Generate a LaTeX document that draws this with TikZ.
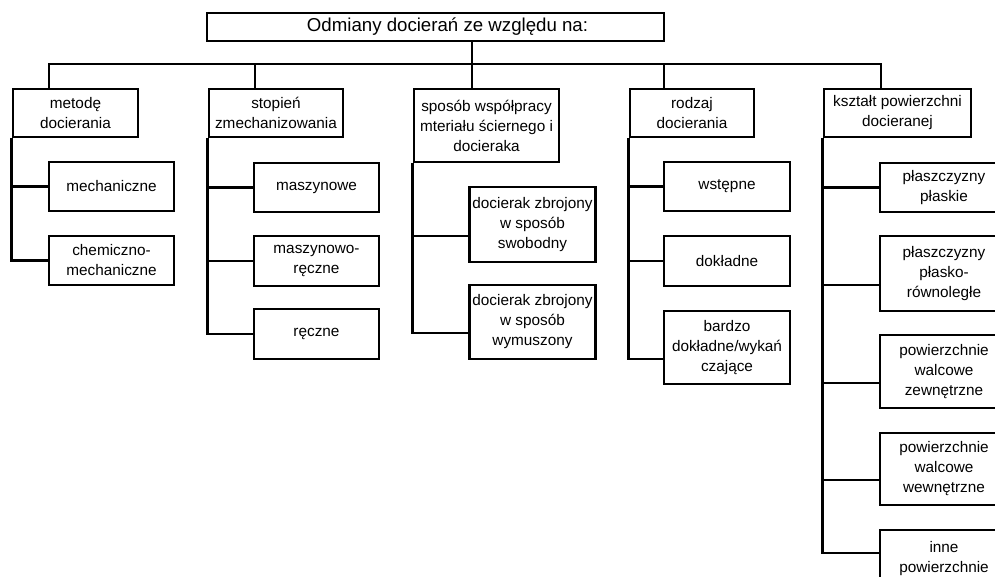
\documentclass[tikz,border=0pt]{standalone}
\usepackage{fontspec}
\setmainfont{Liberation Sans}
\begin{document}
\begin{tikzpicture}[x=0.75pt,y=-0.75pt,line width=2.1pt,
  box/.style={draw,rectangle,align=center,inner sep=2pt,line width=2.1pt,
    font=\fontsize{11.5}{15}\selectfont},
  l1/.style={box,minimum height=36pt},
  kid/.style={box,minimum width=93.75pt}]
\useasboundingbox (0,0) rectangle (995,576);
\clip (0,0) rectangle (995,576);
% title
\node[box,minimum width=342.75pt,minimum height=21pt,font=\fontsize{14}{16}\selectfont] (T) at (435.5,27) {\hspace*{18pt}Odmiany docierań ze względu na:};
% level 1
\node[l1,minimum width=93.75pt] (A) at (75.5,113) {metodę\\docierania};
\node[l1,minimum width=100.5pt] (B) at (276,113) {stopień\\zmechanizowania};
\node[box,minimum width=108.75pt,minimum height=54.75pt] (C) at (486.5,125.5) {sposób współpracy\\mteriału ściernego i\\docieraka};
\node[l1,minimum width=93pt] (D) at (692,113) {rodzaj\\docierania};
\node[l1,minimum width=110.25pt] (E) at (897.5,113) {kształt powierzchni\\docieranej};
% group 1
\node[kid,minimum height=36.75pt] (A1) at (111.5,186.5) {mechaniczne};
\node[kid,minimum height=36.75pt] (A2) at (111.5,260.5) {chemiczno-\\mechaniczne};
% group 2
\node[kid,minimum height=36.75pt] (B1) at (316.5,187.5) {maszynowe};
\node[kid,minimum height=37.5pt] (B2) at (316.5,261) {maszynowo-\\ręczne};
\node[kid,minimum height=37.5pt] (B3) at (316.5,334) {ręczne};
% group 3
\node[kid,minimum height=56.25pt] (C1) at (532.5,224.5) {docierak zbrojony\\w sposób\\swobodny};
\node[kid,minimum height=55.5pt] (C2) at (532.5,322) {docierak zbrojony\\w sposób\\wymuszony};
% group 4
\node[kid,minimum width=94.5pt,minimum height=36.75pt] (D1) at (727,186.5) {wstępne};
\node[kid,minimum width=94.5pt,minimum height=37.5pt] (D2) at (727,261) {dokładne};
\node[kid,minimum width=94.5pt,minimum height=54.75pt] (D3) at (727,347.5) {bardzo\\dokładne/wykań\\czające};
% group 5
\node[kid,minimum width=96pt,minimum height=36.75pt] (E1) at (944,187.5) {płaszczyzny\\płaskie};
\node[kid,minimum width=96pt,minimum height=56.25pt] (E2) at (944,273.5) {płaszczyzny\\płasko-\\równoległe};
\node[kid,minimum width=96pt,minimum height=54.75pt] (E3) at (944,371.5) {powierzchnie\\walcowe\\zewnętrzne};
\node[kid,minimum width=96pt,minimum height=54pt] (E4) at (944,469) {powierzchnie\\walcowe\\wewnętrzne};
\node[kid,minimum width=96pt,minimum height=54.75pt] (E5) at (944,566.5) {inne\\powierzchnie\\};
% bus
\coordinate (bL) at (49,64);
\coordinate (b2) at (255,64);
\coordinate (b3) at (472,64);
\coordinate (b4) at (664,64);
\coordinate (bR) at (881,64);
\draw (bL |- A.north) -- (bL) -- (bR) -- (bR |- E.north);
\draw (b2) -- (b2 |- B.north);
\draw (T.south -| b3) -- (b3 |- C.north);
\draw (b4) -- (b4 |- D.north);
% group 1 connectors
\draw (A.south west) |- (A2.west);
\draw (A.south west |- A1.west) -- (A1.west);
% group 2
\draw (B.south west) |- (B3.west);
\draw (B.south west |- B1.west) -- (B1.west);
\draw (B.south west |- B2.west) -- (B2.west);
% group 3
\coordinate (c1) at (470,236);
\coordinate (c2) at (470,333);
\draw (C.south west) |- (c2);
\draw (C.south west |- c1) -- (c1);
% group 4
\coordinate (d3) at (664,359);
\draw (D.south west) |- (d3);
\draw (D.south west |- D1.west) -- (D1.west);
\draw (D.south west |- D2.west) -- (D2.west);
% group 5
\coordinate (e2) at (880,285);
\coordinate (e3) at (880,383);
\coordinate (e4) at (880,480);
\coordinate (e5) at (880,553);
\draw (E.south west) |- (e5);
\draw (E.south west |- E1.west) -- (E1.west);
\draw (E.south west |- e2) -- (e2);
\draw (E.south west |- e3) -- (e3);
\draw (E.south west |- e4) -- (e4);
\end{tikzpicture}
\end{document}
